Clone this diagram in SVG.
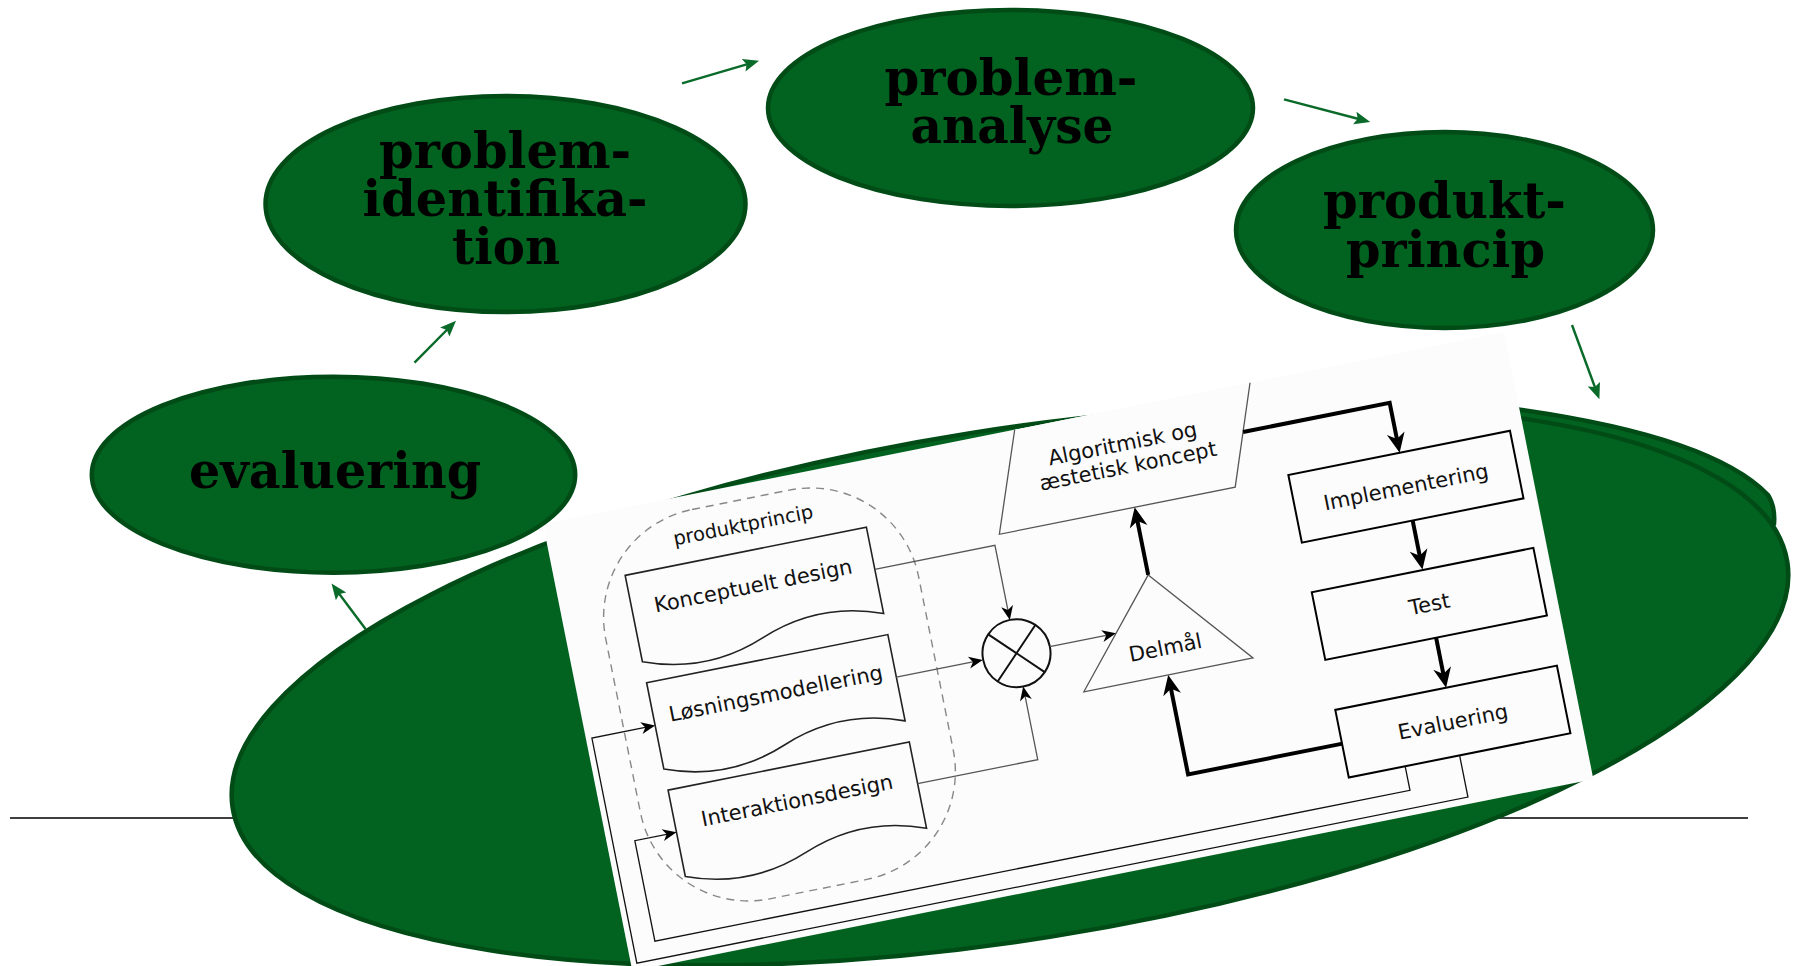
<svg xmlns="http://www.w3.org/2000/svg" width="1796" height="966" viewBox="0 0 1796 966">
  <defs>
    <style>
      .bubble{fill:#02621f;stroke:#014c16;stroke-width:4.5}
      .label{font-family:"DejaVu Serif","Liberation Serif",serif;font-weight:bold;font-size:50px;fill:#000;text-anchor:middle}
      .cyc{fill:none;stroke:#0a6a29;stroke-width:2.4;marker-end:url(#gArrow)}
      .fc{font-family:"DejaVu Sans","Liberation Sans",sans-serif;font-size:21px;fill:#111;text-anchor:middle}
      .small{font-size:19.5px}
      .doc{fill:#fcfcfc;stroke:#222;stroke-width:1.6}
      .box{fill:#fcfcfc;stroke:#000;stroke-width:2}
      .outline{fill:#fcfcfc;stroke:#555;stroke-width:1.3}
      .thin{fill:none;stroke:#555;stroke-width:1.3;marker-end:url(#tArrow)}
      .loop{fill:none;stroke:#111;stroke-width:1.3;marker-end:url(#tArrow)}
      .thick{fill:none;stroke:#000;stroke-width:4;stroke-linejoin:miter;marker-end:url(#kArrow)}
    </style>
    <marker id="gArrow" markerUnits="userSpaceOnUse" orient="auto" refX="-4" refY="0" overflow="visible">
      <path d="M0,0 L-16,-6.5 L-13,0 L-16,6.5 Z" fill="#0a6a29"/>
    </marker>
    <marker id="tArrow" markerUnits="userSpaceOnUse" orient="auto" refX="-5" refY="0" overflow="visible">
      <path d="M0,0 L-14,-6 L-10,0 L-14,6 Z" fill="#000"/>
    </marker>
    <marker id="kArrow" markerUnits="userSpaceOnUse" orient="auto" refX="-10" refY="0" overflow="visible">
      <path d="M0,0 L-20,-9 L-14,0 L-20,9 Z" fill="#000"/>
    </marker>
  </defs>

  <rect width="1796" height="966" fill="#fff"/>

  <!-- base line behind the central disc -->
  <line x1="10" y1="818" x2="1748" y2="818" stroke="#000" stroke-width="1.6"/>

  <!-- central disc with the rim of a second disc behind it -->
  <g id="central-disc">
    <path class="bubble" d="M1500,407 C1600,420 1720,445 1768,495 C1773,503 1775,512 1774,524 L1740,570 L1500,560 Z"/>
    <ellipse class="bubble" cx="1010" cy="685" rx="787" ry="255" transform="rotate(-9 1010 685)"/>
  </g>

  <!-- process flowchart sheet -->
  <g id="flowchart" transform="translate(543,524) rotate(-11.3)">
    <rect x="0" y="0" width="980" height="456" fill="#fcfcfc"/>

    <g id="produktprincip-group">
      <rect x="39" y="15" width="319" height="397" rx="110" fill="none" stroke="#888" stroke-width="1.4" stroke-dasharray="8 6"/>
      <text class="fc small" x="196" y="47">produktprincip</text>
    </g>

    <g id="doc-konceptuelt">
      <path class="doc" d="M70.5,66.5 H316.5 V154.5 Q255,130.5 193.5,154.5 T70.5,154.5 Z"/>
      <text class="fc" x="194" y="109">Konceptuelt design</text>
    </g>
    <g id="doc-loesning">
      <path class="doc" d="M70.5,176 H316.5 V264 Q255,240 193.5,264 T70.5,264 Z"/>
      <text class="fc" x="195" y="219">Løsningsmodellering</text>
    </g>
    <g id="doc-interaktion">
      <path class="doc" d="M70.5,285.5 H316.5 V373.5 Q255,349.5 193.5,373.5 T70.5,373.5 Z"/>
      <text class="fc" x="195" y="328">Interaktionsdesign</text>
    </g>

    <g id="junction">
      <circle cx="439" cy="219.5" r="34" fill="#fcfcfc" stroke="#111" stroke-width="2"/>
      <path d="M415,195.5 L463,243.5 M463,195.5 L415,243.5" stroke="#111" stroke-width="2" fill="none"/>
    </g>

    <g id="delmaal">
      <polygon class="outline" points="583.5,168.5 497.5,270.5 670,270.5"/>
      <text class="fc" x="586" y="250.5">Delmål</text>
    </g>

    <g id="koncept">
      <path class="outline" d="M481,0 L445.5,99.5 L686,99.5 L721,0"/>
      <text class="fc" x="584" y="42">Algoritmisk og</text>
      <text class="fc" x="585" y="65">æstetisk koncept</text>
    </g>

    <g id="implementering">
      <rect class="box" x="740.5" y="98" width="226" height="69"/>
      <text class="fc" x="853.5" y="140">Implementering</text>
    </g>
    <g id="test">
      <rect class="box" x="740.5" y="217.5" width="226" height="69"/>
      <text class="fc" x="853.5" y="259.5">Test</text>
    </g>
    <g id="evaluering-box">
      <rect class="box" x="740.5" y="337.5" width="226" height="69"/>
      <text class="fc" x="853.5" y="379.5">Evaluering</text>
    </g>

    <g id="flow-connectors">
      <path class="thin" d="M316.5,109.5 H439 V180.5"/>
      <path class="thin" d="M316.5,219.5 H399.6"/>
      <path class="thin" d="M316.5,328 H439 V258.5"/>
      <path class="thin" d="M473,219.5 H535.5"/>
      <path class="loop" d="M798,406.5 V431 H28 V328.5 H65.5"/>
      <path class="loop" d="M853.5,406.5 V449 H6 V219.5 H65.5"/>
      <path class="thick" d="M583.5,168.5 V109.5"/>
      <path class="thick" d="M704.5,47 H854 V88"/>
      <path class="thick" d="M853.5,167 V207"/>
      <path class="thick" d="M853.5,286.5 V327.5"/>
      <path class="thick" d="M741,372 H583.5 V280.5"/>
    </g>
  </g>

  <!-- phase bubbles -->
  <g id="node-problemidentifikation">
    <ellipse class="bubble" cx="505.5" cy="204" rx="240" ry="108"/>
    <text class="label" x="505" y="168" textLength="252" lengthAdjust="spacingAndGlyphs">problem-</text>
    <text class="label" x="505" y="216" textLength="285" lengthAdjust="spacingAndGlyphs">identifika-</text>
    <text class="label" x="506" y="264" textLength="108" lengthAdjust="spacingAndGlyphs">tion</text>
  </g>
  <g id="node-problemanalyse">
    <ellipse class="bubble" cx="1010.5" cy="108" rx="242.5" ry="98"/>
    <text class="label" x="1011" y="95" textLength="253" lengthAdjust="spacingAndGlyphs">problem-</text>
    <text class="label" x="1012" y="143" textLength="203" lengthAdjust="spacingAndGlyphs">analyse</text>
  </g>
  <g id="node-produktprincip">
    <ellipse class="bubble" cx="1444.5" cy="230" rx="208.5" ry="98"/>
    <text class="label" x="1444.5" y="218" textLength="243" lengthAdjust="spacingAndGlyphs">produkt-</text>
    <text class="label" x="1445.5" y="267" textLength="199" lengthAdjust="spacingAndGlyphs">princip</text>
  </g>
  <g id="node-evaluering">
    <ellipse class="bubble" cx="333.5" cy="474.7" rx="241.7" ry="98"/>
    <text class="label" x="335" y="487.5" textLength="292" lengthAdjust="spacingAndGlyphs">evaluering</text>
  </g>

  <!-- cycle connectors -->
  <g id="cycle-arrows">
    <path class="cyc" d="M365.7,629.3 L333.9,586.7"/>
    <path class="cyc" d="M414.5,362.7 L453.2,323.5"/>
    <path class="cyc" d="M682,83.3 L755.2,61.8"/>
    <path class="cyc" d="M1284,99.3 L1366.4,121"/>
    <path class="cyc" d="M1572,325 L1598,395.5"/>
  </g>
</svg>
